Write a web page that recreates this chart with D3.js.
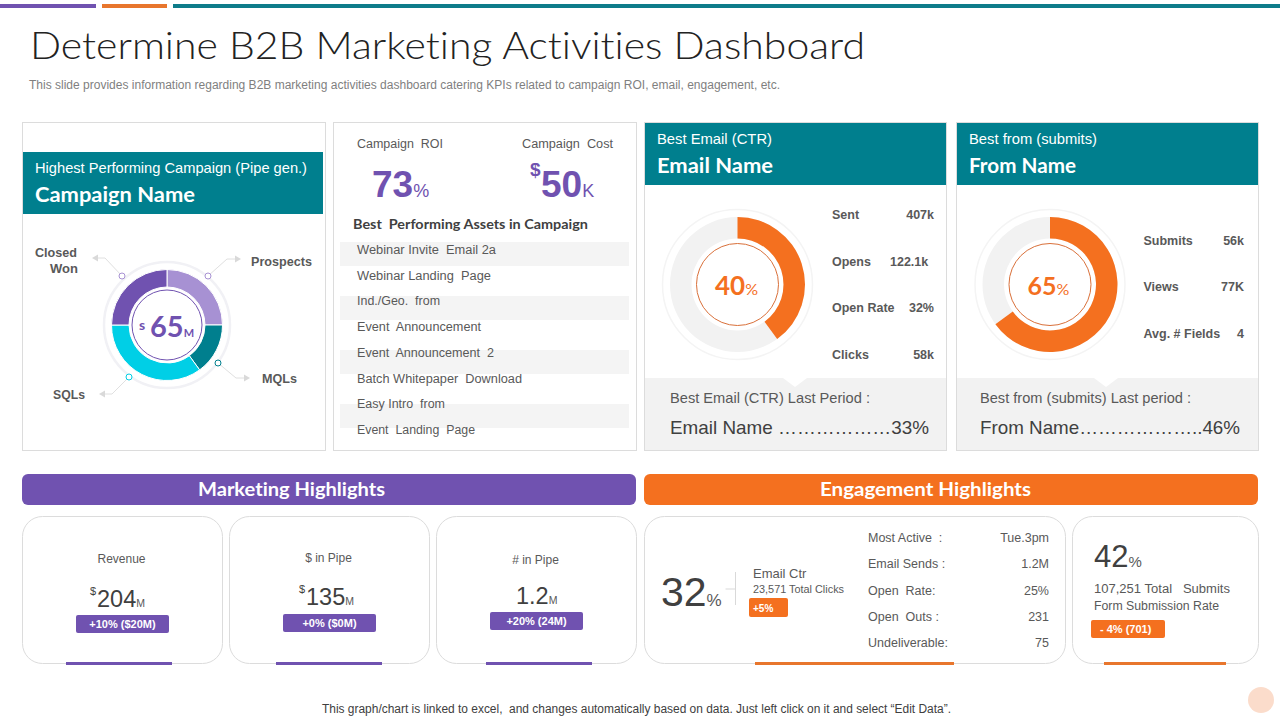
<!DOCTYPE html>
<html>
<head>
<meta charset="utf-8">
<title>Determine B2B Marketing Activities Dashboard</title>
<script src="https://cdn.jsdelivr.net/npm/d3@7"></script>
<style>
  html, body { margin: 0; padding: 0; background: #fff; }
  svg { display: block; }
  text { font-family: "Liberation Sans", Arial, sans-serif; font-variant-ligatures: none; }
  .head { font-family: Lato, "Noto Sans", sans-serif; }
</style>
</head>
<body>
<svg id="chart" width="1280" height="720"></svg>
<script>
// chart values
var funnelLabels = ["Prospects", "MQLs", "SQLs", "Closed Won"];
var funnelShares = [25, 15, 35, 25];
var funnelTotal = "65";
var assets = ["Webinar Invite  Email 2a", "Webinar Landing  Page", "Ind./Geo.  from", "Event  Announcement",
  "Event  Announcement  2", "Batch Whitepaper  Download", "Easy Intro  from", "Event  Landing  Page"];
var emailRate = 40;
var formRate = 65;
var emailStatLabels = ["Sent", "Opens", "Open Rate", "Clicks"];
var emailStatValues = ["407k", "122.1k", "32%", "58k"];
var formStatLabels = ["Submits", "Views", "Avg. # Fields"];
var formStatValues = ["56k", "77K", "4"];
var marketingLabels = ["Revenue", "$ in Pipe", "# in Pipe"];
var marketingValues = ["204", "135", "1.2"];
var marketingDeltas = ["+10% ($20M)", "+0% ($0M)", "+20% (24M)"];
var engagementLabels = ["Most Active  :", "Email Sends :", "Open  Rate:", "Open  Outs :", "Undeliverable:"];
var engagementValues = ["Tue.3pm", "1.2M", "25%", "231", "75"];

var purple = "#7052b0", lilac = "#a791d3", teal = "#007f8e", cyan = "#00cfe6", orange = "#f4701f";
var grey = "#595959", dark = "#404040", rule = "#dcdcdc", pale = "#f2f2f2";

var svg = d3.select("#chart");

function rect(x, y, w, h, fill, opt) {
  opt = opt || {};
  return svg.append("rect").attr("x", x).attr("y", y).attr("width", w).attr("height", h)
    .attr("rx", opt.r || 0).attr("fill", fill)
    .attr("stroke", opt.stroke || "none").attr("stroke-width", opt.stroke ? 1 : 0);
}

// y is the baseline. opt: size, color, bold, light, anchor, head, fit
function put(x, y, str, opt) {
  opt = opt || {};
  var t = svg.append("text").attr("x", x).attr("y", y).text(str)
    .attr("font-size", opt.size || 12.5)
    .attr("fill", opt.color || grey)
    .attr("font-weight", opt.bold ? 700 : (opt.light ? 300 : 400))
    .attr("text-anchor", opt.anchor || "start")
    .attr("xml:space", "preserve")
    .style("white-space", "pre");
  if (opt.head) t.attr("class", "head");
  if (opt.fit) t.attr("textLength", opt.fit).attr("lengthAdjust", "spacingAndGlyphs");
  return t;
}

// big figure with a small unit right after it, kept in one text
function figure(x, y, num, unit, opt, unitOpt) {
  var t = put(x, y, num, opt);
  var u = t.append("tspan").text(unit).attr("font-size", unitOpt.size)
    .attr("font-weight", unitOpt.bold ? 700 : 400);
  if (unitOpt.color) u.attr("fill", unitOpt.color);
  return t;
}

function ring(cx, cy, r, stroke, width, fill) {
  return svg.append("circle").attr("cx", cx).attr("cy", cy).attr("r", r)
    .attr("fill", fill || "none").attr("stroke", stroke).attr("stroke-width", width);
}

// top strips and title
rect(0, 4, 96, 4, purple);
rect(102, 4, 65, 4, "#e8762d");
rect(173, 4, 1107, 4, "#0e7c8a");
put(30, 59, "Determine B2B Marketing Activities Dashboard", { size: 38, color: "#222222", head: true, light: true, fit: 835 });
put(29, 89, "This slide provides information regarding B2B marketing activities dashboard catering KPIs related to campaign ROI, email, engagement, etc.",
  { size: 12, color: "#7f7f7f", fit: 751 });

// upper panels
[[22.5, 303], [333.5, 303], [644.5, 302], [956.5, 302]].forEach(function (p) {
  rect(p[0], 122.5, p[1], 328, "#fff", { stroke: rule });
});

function header(x, y, w, small, big, smallFit, bigFit) {
  rect(x, y, w, 62, teal);
  put(x + 12, y + 21, small, { size: 14.5, color: "#fff", fit: smallFit });
  put(x + 12, y + 50, big, { size: 20, color: "#fff", bold: true, head: true, fit: bigFit });
}
header(23, 152, 300, "Highest Performing Campaign (Pipe gen.)", "Campaign Name", 272, 160);
header(645, 123, 301, "Best Email (CTR)", "Email Name", 115, 116);
header(957, 123, 301, "Best from (submits)", "From Name", 128, 107);

// funnel donut
var fx = 167, fy = 325;
var funnelColors = d3.scaleOrdinal().domain(funnelLabels).range([lilac, teal, cyan, purple]);
var funnelPie = d3.pie().sort(null).value(function (d, i) { return funnelShares[i]; });
var funnelArc = d3.arc().innerRadius(38).outerRadius(55.5);
ring(fx, fy, 63, "#f1f1f5", 2.5);
svg.append("g").attr("transform", "translate(" + fx + "," + fy + ")")
  .selectAll("path").data(funnelPie(funnelLabels)).join("path")
  .attr("d", funnelArc)
  .attr("fill", function (d) { return funnelColors(d.data); })
  .attr("stroke", "#fff").attr("stroke-width", 1);
ring(fx, fy, 35, purple, 1);
put(139, 330, "s", { size: 14, color: purple, bold: true, head: true });
figure(150, 337, funnelTotal, "M", { size: 29, color: purple, bold: true, head: true }, { size: 11, bold: true });

// callouts: dot, elbow, arrow for each funnel slice
var callouts = [
  [[208, 276], [227, 259], [235, 259], 1, lilac],
  [[218, 363], [236, 378], [244, 378], 1, teal],
  [[129, 377], [112, 394], [105, 394], -1, cyan],
  [[122, 276], [105, 258], [98, 258], -1, lilac]
];
callouts.forEach(function (c) {
  svg.append("path").attr("d", d3.line()([c[0], c[1], c[2]]))
    .attr("fill", "none").attr("stroke", "#e0e0e0").attr("stroke-width", 1);
  svg.append("path").attr("fill", "#d9d9d9")
    .attr("d", d3.line()([[c[2][0], c[2][1] - 3.5], [c[2][0] + 6 * c[3], c[2][1]], [c[2][0], c[2][1] + 3.5]]));
  ring(c[0][0], c[0][1], 3, c[4], 1, "#fff");
});
put(251, 266, funnelLabels[0], { size: 13, bold: true, fit: 61 });
put(262, 383, funnelLabels[1], { size: 13, bold: true, fit: 35 });
put(53, 399, funnelLabels[2], { size: 13, bold: true, fit: 32 });
var closedWon = funnelLabels[3].split(" ");
put(35, 257, closedWon[0], { size: 13, bold: true, fit: 42 });
put(78, 273, closedWon[1], { size: 13, bold: true, anchor: "end" });

// roi panel
put(357, 148, "Campaign  ROI", { size: 12.5, fit: 86 });
put(522, 148, "Campaign  Cost", { size: 12.5, fit: 91 });
figure(372, 197, "73", "%", { size: 37, color: purple, bold: true }, { size: 18 });
put(530, 176, "$", { size: 19, color: purple, bold: true });
figure(541, 197, "50", "K", { size: 37, color: purple, bold: true }, { size: 18 });
put(353, 229, "Best  Performing Assets in Campaign", { size: 13, color: "#404040", bold: true, head: true, fit: 235 });

var rowY = d3.scalePoint().domain(assets).range([254, 434]);
var rowFit = [139, 134, 83, 124, 137, 165, 88, 118];
assets.forEach(function (a, i) {
  if (i % 2 == 0) rect(340, 242 + 27 * i, 289, 24, "#f4f4f4");
});
assets.forEach(function (a, i) {
  put(357, rowY(a), a, { size: 12.5, fit: rowFit[i] });
});

// gauges
function gauge(cx, cy, rate, labelSize) {
  var angle = d3.scaleLinear().domain([0, 100]).range([0, 2 * Math.PI]);
  var band = d3.arc().innerRadius(46).outerRadius(67.5).startAngle(0);
  ring(cx, cy, 75, "#f4f4f4", 1.5);
  var g = svg.append("g").attr("transform", "translate(" + cx + "," + cy + ")");
  g.append("path").attr("d", band.endAngle(angle(100))()).attr("fill", pale);
  g.append("path").attr("d", band.endAngle(angle(rate))()).attr("fill", orange);
  ring(cx, cy, 41, "#d9703a", 1);
  figure(cx - 22.5, cy + 10, String(rate), "%", { size: labelSize, color: orange, bold: true, head: true }, { size: 16 });
}
gauge(737.5, 284.5, emailRate, 26);
gauge(1050, 284.5, formRate, 25);

function stats(labels, values, x, right, ys, valueX) {
  labels.forEach(function (l, i) {
    put(x, ys[i], l, { bold: true });
    if (valueX[i]) put(valueX[i], ys[i], values[i], { bold: true });
    else put(right, ys[i], values[i], { bold: true, anchor: "end" });
  });
}
stats(emailStatLabels, emailStatValues, 832, 934, [219, 266, 312, 359], [0, 890, 0, 0]);
stats(formStatLabels, formStatValues, 1143.5, 1244, [245, 291, 338], [0, 0, 0]);

function lastPeriod(x, w, tipX, textX, small, smallFit, big, bigFit) {
  rect(x, 378, w, 72, pale);
  svg.append("path").attr("fill", "#fff")
    .attr("d", d3.line()([[tipX - 12, 378], [tipX + 12, 378], [tipX, 387]]));
  put(textX, 403, small, { size: 14.5, fit: smallFit });
  put(textX, 434, big, { size: 19, color: dark, fit: bigFit });
}
lastPeriod(645, 301, 795, 670, "Best Email (CTR) Last Period :", 200, "Email Name ………………33%", 259);
lastPeriod(957, 301, 1106, 980, "Best from (submits) Last period :", 211, "From Name………………..46%", 260);

// highlight bars
rect(22, 474, 614, 31, purple, { r: 6 });
rect(644, 474, 614, 31, orange, { r: 6 });
put(198, 496, "Marketing Highlights", { size: 19.5, color: "#fff", bold: true, head: true, fit: 187 });
put(820, 496, "Engagement Highlights", { size: 19.5, color: "#fff", bold: true, head: true, fit: 211 });

// marketing cards, each with a label, a figure and a delta pill
var cardX = d3.scalePoint().domain(marketingLabels).range([22.5, 436.5]);
var labelBase = [563, 562, 564];
var figureBase = [607, 605, 604];
var pillTop = [615, 614, 612];
var figureLeft = [97, 306, 516];
marketingLabels.forEach(function (l, i) {
  rect(cardX(l), 516.5, 200, 147, "#fff", { r: 20, stroke: rule });
});
marketingLabels.forEach(function (l, i) {
  var x = cardX(l);
  rect(66 + 210 * i, 662, 106, 3, purple);
  put(x + 99, labelBase[i], l, { size: 12, anchor: "middle" });
  if (i < 2) put(figureLeft[i] - 7, figureBase[i] - 12, "$", { size: 11, color: dark });
  figure(figureLeft[i], figureBase[i], marketingValues[i], "M", { size: 23.5, color: dark }, { size: 10.5, color: grey });
  rect(x + 53.5, pillTop[i], 93, 18, purple, { r: 2 });
  put(x + 100, pillTop[i] + 13, marketingDeltas[i], { size: 11, color: "#fff", bold: true, anchor: "middle" });
});

// engagement cards
rect(644.5, 516.5, 421, 147, "#fff", { r: 20, stroke: rule });
rect(1072.5, 516.5, 186, 147, "#fff", { r: 20, stroke: rule });
rect(755, 662, 199, 3, "#e8762d");
rect(1104, 662, 122, 3, "#e8762d");

figure(661, 606, "32", "%", { size: 41, color: dark }, { size: 17, color: grey });
svg.append("path").attr("d", "M725.5,589H735.5M735.5,572V605").attr("stroke", "#d9d9d9").attr("fill", "none");
put(753, 578, "Email Ctr", { size: 13 });
put(753, 593, "23,571 Total Clicks", { size: 11, fit: 91 });
rect(749, 598, 39, 19, orange, { r: 2 });
put(753, 612, "+5%", { size: 10, color: "#fff", bold: true });

var listY = d3.scalePoint().domain(engagementLabels).range([542, 647]);
engagementLabels.forEach(function (l, i) {
  put(868, listY(l), l, { size: 12.5 });
  put(1049, listY(l), engagementValues[i], { size: 12.5, anchor: "end" });
});

figure(1094, 567, "42", "%", { size: 31, color: dark }, { size: 15, color: grey });
put(1094, 593, "107,251 Total   Submits", { size: 12.5, fit: 136 });
put(1094, 610, "Form Submission Rate", { size: 12, fit: 125 });
rect(1091, 620, 74, 18, orange, { r: 2 });
put(1100, 633, "- 4% (701)", { size: 11, color: "#fff", bold: true });

// footer
put(322, 713, "This graph/chart is linked to excel,  and changes automatically based on data. Just left click on it and select “Edit Data”.",
  { size: 12, color: dark, fit: 629 });
svg.append("circle").attr("cx", 1261).attr("cy", 700).attr("r", 13).attr("fill", "#fbdccb");
</script>
</body>
</html>
